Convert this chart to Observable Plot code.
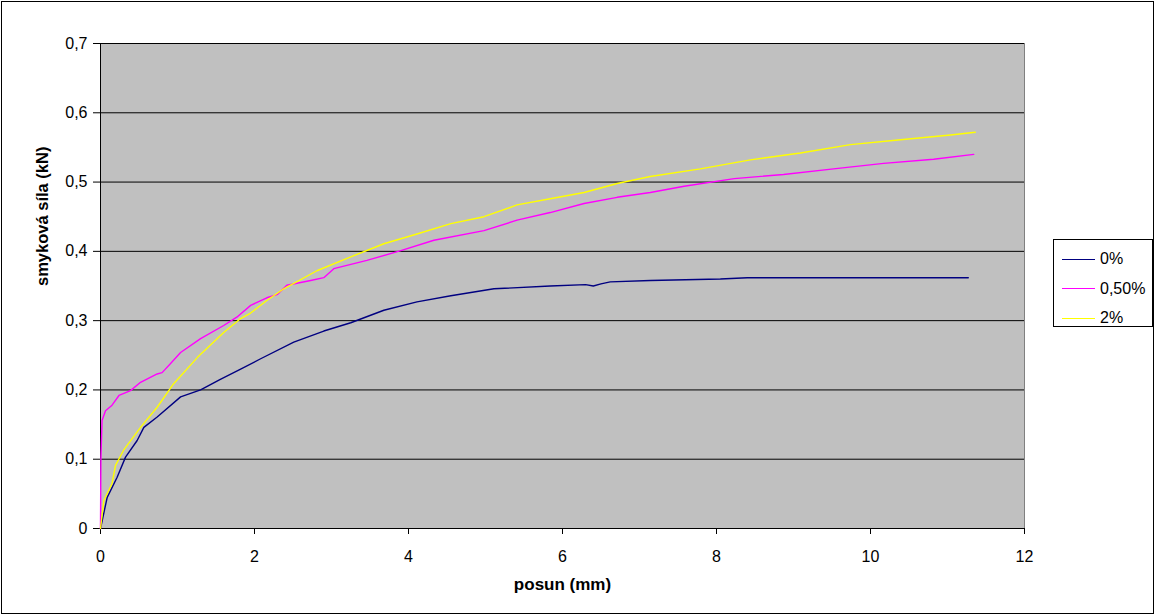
<!DOCTYPE html>
<html>
<head>
<meta charset="utf-8">
<script src="https://cdn.jsdelivr.net/npm/d3@7"></script>
<script src="https://cdn.jsdelivr.net/npm/@observablehq/plot@0.6"></script>
<style>
  html, body { margin: 0; padding: 0; background: white; }
  #wrap { position: relative; width: 1155px; height: 615px; }
  #frame { position: absolute; left: 1px; top: 1px; width: 1151px; height: 611px; border: 1px solid black; pointer-events: none; }
  #legend { position: absolute; left: 1053px; top: 239px; width: 100px; height: 88px; border: 1px solid black; background: white; box-sizing: border-box;
    font-family: "Liberation Sans", Arial, sans-serif; font-size: 16px; }
  .row { position: absolute; left: 0; height: 20px; display: flex; align-items: center; }
  .sw { width: 33px; height: 0; margin-left: 8px; margin-right: 5px; border-top: 1px solid; }
</style>
</head>
<body>
<div id="wrap"><div id="chart"></div><div id="legend"></div><div id="frame"></div></div>
<script>
const seriesNames = ["0%", "0,50%", "2%"];
const seriesColors = ["#000080", "#FF00FF", "#FFFF00"];

const x0 = [0,0.087,0.216,0.325,0.476,0.563,0.736,1.04,1.30,1.55,1.82,2.08,2.51,2.9,3.25,3.68,4.11,4.55,5.11,5.84,6.3,6.4,6.5,6.62,7.14,8.05,8.4,9.0,10.0,11.27];
const y0 = [0,0.045,0.074,0.103,0.127,0.146,0.161,0.19,0.20,0.215,0.23,0.245,0.269,0.285,0.297,0.315,0.327,0.336,0.346,0.350,0.352,0.350,0.353,0.356,0.358,0.360,0.362,0.362,0.362,0.362];

const x05 = [0,0.005,0.02,0.065,0.15,0.24,0.39,0.52,0.736,0.8,0.91,1.04,1.30,1.60,1.77,1.95,2.16,2.3,2.42,2.73,2.9,3.03,3.46,3.90,4.33,4.98,5.41,5.84,6.28,6.71,7.14,7.58,8.23,8.87,9.52,10.17,10.82,11.34];
const y05 = [0,0.10,0.156,0.170,0.178,0.192,0.199,0.211,0.223,0.225,0.238,0.254,0.274,0.293,0.305,0.322,0.333,0.338,0.351,0.358,0.362,0.375,0.387,0.401,0.416,0.430,0.445,0.456,0.469,0.478,0.485,0.494,0.505,0.511,0.519,0.527,0.533,0.540];

const x2 = [0,0.043,0.15,0.195,0.30,0.52,0.736,0.95,1.26,1.60,1.82,1.95,2.16,2.38,2.81,3.25,3.68,4.11,4.55,4.98,5.41,5.84,6.28,6.71,7.14,7.79,8.44,9.09,9.74,10.39,11.04,11.36];
const y2 = [0,0.040,0.065,0.091,0.113,0.146,0.175,0.209,0.247,0.283,0.303,0.311,0.329,0.346,0.372,0.392,0.411,0.425,0.440,0.450,0.467,0.476,0.485,0.498,0.508,0.519,0.532,0.542,0.554,0.561,0.568,0.572];

const xTicks = [0,2,4,6,8,10,12];
const yTicks = [0,0.1,0.2,0.3,0.4,0.5,0.6,0.7];
const xLabel = "posun (mm)";
const yLabel = "smyková síla (kN)";

const xs = [x0, x05, x2], ys = [y0, y05, y2];
const data = [];
seriesNames.forEach((s, i) => xs[i].forEach((x, j) => data.push({s, x, y: ys[i][j]})));

const chart = Plot.plot({
  width: 1155, height: 615,
  marginLeft: 100, marginRight: 131, marginTop: 43, marginBottom: 87,
  x: {domain: [0, 12]},
  y: {domain: [0, 0.7]},
  color: {domain: seriesNames, range: seriesColors},
  style: {fontFamily: "'Liberation Sans', Arial, sans-serif", fontSize: "16px", background: "white", color: "black"},
  marks: [
    Plot.frame({fill: "#C0C0C0", stroke: "#808080"}),
    Plot.gridY(yTicks.filter(d => d > 0), {stroke: "black", strokeOpacity: 1, strokeWidth: 1}),
    Plot.axisY({ticks: yTicks, tickSize: 7, tickPadding: 6, tickFormat: d => d === 0 ? "0" : d.toFixed(1).replace(".", ","), label: null, fontSize: 16}),
    Plot.axisX({ticks: xTicks, tickSize: 6, tickPadding: 16, tickFormat: d => String(d), label: null, fontSize: 16}),
    Plot.ruleX([0], {stroke: "black"}),
    Plot.ruleY([0], {stroke: "black"}),
    Plot.line(data, {x: "x", y: "y", z: "s", stroke: "s", strokeWidth: 1.4}),
    Plot.text([xLabel], {frameAnchor: "bottom", dy: 56, fontWeight: "bold", fontSize: 17, lineAnchor: "middle"}),
    Plot.text([yLabel], {frameAnchor: "left", dx: -58, rotate: -90, fontWeight: "bold", fontSize: 16.5, lineAnchor: "middle"})
  ]
});
document.getElementById("chart").appendChild(chart);

const legend = document.getElementById("legend");
seriesNames.forEach((s, i) => {
  const row = document.createElement("div");
  row.className = "row";
  row.style.top = (9 + i * 29.5) + "px";
  const sw = document.createElement("span");
  sw.className = "sw";
  sw.style.borderColor = seriesColors[i];
  const t = document.createElement("span");
  t.textContent = s;
  row.appendChild(sw); row.appendChild(t);
  legend.appendChild(row);
});
</script>
</body>
</html>
